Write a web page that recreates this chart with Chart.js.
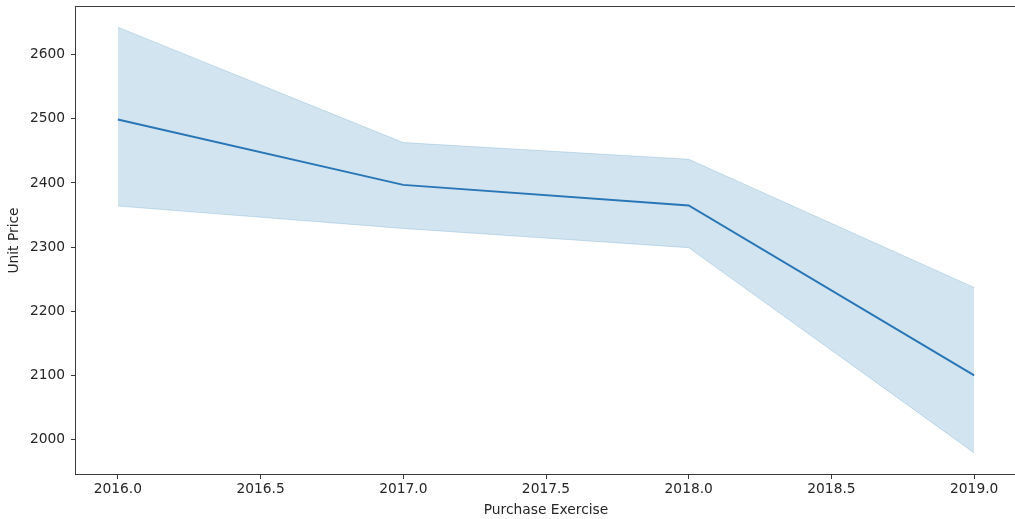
<!DOCTYPE html>
<html>
<head>
<meta charset="utf-8">
<script src="https://cdn.jsdelivr.net/npm/chart.js@4.4.1/dist/chart.umd.min.js"></script>
<style>
  html, body { margin: 0; padding: 0; background: #fff; overflow: hidden; }
  #wrap { width: 1017px; height: 519px; }
</style>
</head>
<body>
<div id="wrap"><canvas id="c" width="1017" height="519"></canvas></div>
<script>
// Purchase year and average unit price with its confidence band
const years = [2016, 2017, 2018, 2019];
const meanPrice = [2499, 2397, 2365, 2100];
const upperBand = [2643, 2463, 2437, 2237];
const lowerBand = [2364, 2329, 2299, 1979];

const xTicks = [2016.0, 2016.5, 2017.0, 2017.5, 2018.0, 2018.5, 2019.0];
const yTicks = [2000, 2100, 2200, 2300, 2400, 2500, 2600];

const toPoints = vals => years.map((y, i) => ({ x: y, y: vals[i] }));

const FONT = 'DejaVu Sans';
const FONT_SIZE = 13.8;
const TEXT = '#262626';
const BLUE = 'rgb(40,118,182)';
const BAND = 'rgba(31,119,180,0.2)';

// frame around the plotting area (all four spines)
const framePlugin = {
  id: 'frame',
  afterDraw(chart) {
    const { ctx, chartArea: a } = chart;
    ctx.save();
    ctx.strokeStyle = '#3a3a3a';
    ctx.lineWidth = 1;
    ctx.strokeRect(Math.round(a.left) + 0.5, Math.round(a.top) + 0.5,
      Math.round(a.right - a.left) - 1, Math.round(a.bottom - a.top) - 1);
    ctx.restore();
  }
};

const font = { family: FONT, size: FONT_SIZE };

new Chart(document.getElementById('c'), {
  type: 'line',
  data: {
    datasets: [
      {
        label: 'upper',
        data: toPoints(upperBand),
        borderColor: BAND,
        borderWidth: 1,
        pointRadius: 0,
        fill: false,
        order: 2
      },
      {
        label: 'lower',
        data: toPoints(lowerBand),
        borderColor: BAND,
        borderWidth: 1,
        backgroundColor: BAND,
        pointRadius: 0,
        fill: '-1',
        order: 2
      },
      {
        label: 'Unit Price',
        data: toPoints(meanPrice),
        borderColor: BLUE,
        borderWidth: 2,
        pointRadius: 0,
        fill: false,
        order: 1
      }
    ]
  },
  options: {
    responsive: false,
    animation: false,
    layout: { padding: { top: 6, right: 0, bottom: 0, left: 0 } },
    plugins: {
      legend: { display: false },
      tooltip: { enabled: false }
    },
    scales: {
      x: {
        type: 'linear',
        min: 2015.85,
        max: 2019.15,
        afterBuildTicks: s => { s.ticks = xTicks.map(v => ({ value: v })); },
        afterFit: s => { s.height = 44; s.paddingLeft = 0; s.paddingRight = 0; },
        grid: { drawOnChartArea: false, tickLength: 4, tickColor: '#3a3a3a', tickWidth: 1 },
        border: { display: false },
        ticks: {
          color: TEXT,
          font,
          padding: 2,
          maxRotation: 0,
          callback: v => Number(v).toFixed(1)
        },
        title: {
          display: true,
          text: 'Purchase Exercise',
          color: TEXT,
          font,
          padding: { top: 0, bottom: 0 }
        }
      },
      y: {
        type: 'linear',
        min: 1944.5,
        max: 2676,
        afterBuildTicks: s => { s.ticks = yTicks.map(v => ({ value: v })); },
        afterFit: s => { s.width = 75; s.paddingTop = 0; s.paddingBottom = 0; },
        grid: { drawOnChartArea: false, tickLength: 4, tickColor: '#3a3a3a', tickWidth: 1 },
        border: { display: false },
        ticks: {
          color: TEXT,
          font,
          padding: 6,
          callback: v => String(v)
        },
        title: {
          display: true,
          text: 'Unit Price',
          color: TEXT,
          font,
          padding: { top: 6, bottom: 0 }
        }
      }
    }
  },
  plugins: [framePlugin]
});
</script>
</body>
</html>
